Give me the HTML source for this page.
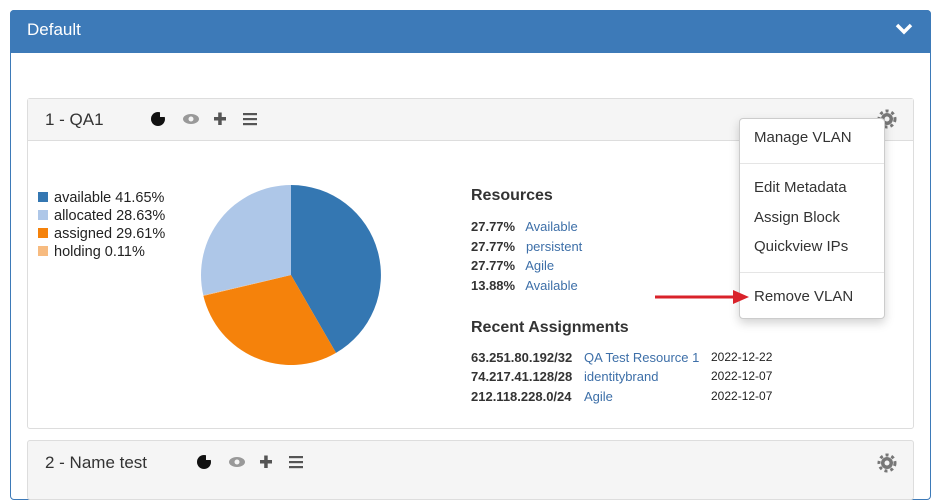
<!DOCTYPE html>
<html><head><style>
*{margin:0;padding:0;box-sizing:border-box}
body{width:940px;height:487px;background:#fff;font-family:"Liberation Sans",sans-serif;position:relative;overflow:hidden;color:#333}
.a{position:absolute;white-space:nowrap}
.lk{color:#3d6fa8}
</style></head><body>
<div class="a" style="left:10px;top:10px;width:921px;height:490px;border:1px solid #3d7ab8;border-radius:4px"></div>
<div class="a" style="left:10px;top:10px;width:921px;height:43px;background:#3d7ab8;border-radius:4px 4px 0 0"></div>
<div class="a" style="left:27px;top:19px;color:#fff;font-size:17px;line-height:22px">Default</div>
<svg class="a" style="left:895px;top:22px" width="18" height="14"><path d="M2 3 L9 10 L16 3" stroke="#fff" stroke-width="3.5" fill="none"/></svg>

<div class="a" style="left:27px;top:98px;width:887px;height:331px;border:1px solid #ddd;border-radius:3px"></div>
<div class="a" style="left:28px;top:99px;width:885px;height:42px;background:#f5f5f5;border-bottom:1px solid #ddd"></div>
<div class="a" style="left:27px;top:440px;width:887px;height:60px;border:1px solid #ddd;border-radius:3px;background:#f5f5f5"></div>
<div class="a" style="left:45px;top:109px;font-size:17px;line-height:22px">1 - QA1</div>
<svg class="a" style="left:150px;top:111px" width="120" height="16"><circle cx="8" cy="8" r="7" fill="#111"/><path d="M10 6 V1 A6 6 0 0 1 15 6Z" fill="#f5f5f5"/>
<ellipse cx="41" cy="8" rx="8" ry="5" fill="#999"/><circle cx="41" cy="8" r="2.5" fill="#f5f5f5"/>
<rect x="64" y="6" width="12" height="3.5" fill="#555"/><rect x="68.2" y="1.5" width="3.5" height="12.5" fill="#555"/>
<rect x="93" y="2" width="14" height="2.2" fill="#555"/><rect x="93" y="7" width="14" height="2.2" fill="#555"/><rect x="93" y="12" width="14" height="2.2" fill="#555"/></svg>

<svg class="a" style="left:0;top:0" width="940" height="487">
<path d="M291 275 L291 185 A90 90 0 0 1 336 352.9Z" fill="#3477b2"/>
<path d="M291 275 L336 352.9 A90 90 0 0 1 203.4 295.9Z" fill="#f5820b"/>
<path d="M291 275 L203.4 295.9 A90 90 0 0 1 203.3 295.2Z" fill="#f7bb80"/>
<path d="M291 275 L203.3 295.2 A90 90 0 0 1 291 185Z" fill="#aec7e8"/>
<circle cx="887" cy="119" r="6" fill="#777"/><circle cx="887" cy="119" r="8" fill="none" stroke="#777" stroke-width="3" stroke-dasharray="3 3"/><circle cx="887" cy="119" r="2.5" fill="#f5f5f5"/>
<circle cx="887" cy="463" r="6" fill="#777"/><circle cx="887" cy="463" r="8" fill="none" stroke="#777" stroke-width="3" stroke-dasharray="3 3"/><circle cx="887" cy="463" r="2.5" fill="#f5f5f5"/>
</svg>

<div class="a" style="left:38px;top:189px;font-size:14.5px;line-height:18px;color:#222">
<div><span style="display:inline-block;width:10px;height:10px;background:#3477b2;margin-right:6px"></span>available 41.65%</div>
<div><span style="display:inline-block;width:10px;height:10px;background:#aec7e8;margin-right:6px"></span>allocated 28.63%</div>
<div><span style="display:inline-block;width:10px;height:10px;background:#f5820b;margin-right:6px"></span>assigned 29.61%</div>
<div><span style="display:inline-block;width:10px;height:10px;background:#f7bb80;margin-right:6px"></span>holding 0.11%</div>
</div>

<div class="a" style="left:471px;top:187px;font-size:16px;font-weight:bold">Resources</div>
<div class="a" style="left:471px;top:217px;font-size:13px;line-height:19.5px">
<div><b>27.77%</b>&nbsp;&nbsp; <span class="lk">Available</span></div>
<div><b>27.77%</b>&nbsp;&nbsp; <span class="lk">persistent</span></div>
<div><b>27.77%</b>&nbsp;&nbsp; <span class="lk">Agile</span></div>
<div><b>13.88%</b>&nbsp;&nbsp; <span class="lk">Available</span></div></div>
<div class="a" style="left:471px;top:319px;font-size:16px;font-weight:bold">Recent Assignments</div>
<div class="a" style="left:471px;top:348px;font-size:13px;line-height:19.3px">
<div><b>63.251.80.192/32</b></div><div><b>74.217.41.128/28</b></div><div><b>212.118.228.0/24</b></div></div>
<div class="a lk" style="left:584px;top:348px;font-size:13px;line-height:19.3px"><div>QA Test Resource 1</div><div>identitybrand</div><div>Agile</div></div>
<div class="a" style="left:711px;top:348px;font-size:12px;line-height:19.3px;color:#222"><div>2022-12-22</div><div>2022-12-07</div><div>2022-12-07</div></div>

<div class="a" style="left:739px;top:118px;width:146px;height:201px;background:#fff;border:1px solid #ccc;border-radius:4px;box-shadow:0 4px 10px rgba(0,0,0,.18)"></div>
<div class="a" style="left:740px;top:163px;width:144px;height:1px;background:#e5e5e5"></div>
<div class="a" style="left:740px;top:272px;width:144px;height:1px;background:#e5e5e5"></div>
<div class="a" style="left:754px;top:128px;font-size:15px;line-height:20px;color:#333">Manage VLAN</div>
<div class="a" style="left:754px;top:178px;font-size:15px;line-height:20px;color:#333">Edit Metadata</div>
<div class="a" style="left:754px;top:208px;font-size:15px;line-height:20px;color:#333">Assign Block</div>
<div class="a" style="left:754px;top:237px;font-size:15px;line-height:20px;color:#333">Quickview IPs</div>
<div class="a" style="left:754px;top:287px;font-size:15px;line-height:20px;color:#333">Remove VLAN</div>
<svg class="a" style="left:650px;top:288px" width="102" height="18"><rect x="5" y="7.5" width="80" height="3" fill="#d9222a"/><path d="M83 2 L99 9 L83 16Z" fill="#d9222a"/></svg>

<div class="a" style="left:45px;top:452px;font-size:17px;line-height:22px">2 - Name test</div>
<svg class="a" style="left:196px;top:454px" width="120" height="16"><circle cx="8" cy="8" r="7" fill="#111"/><path d="M10 6 V1 A6 6 0 0 1 15 6Z" fill="#f5f5f5"/>
<ellipse cx="41" cy="8" rx="8" ry="5" fill="#999"/><circle cx="41" cy="8" r="2.5" fill="#f5f5f5"/>
<rect x="64" y="6" width="12" height="3.5" fill="#555"/><rect x="68.2" y="1.5" width="3.5" height="12.5" fill="#555"/>
<rect x="93" y="2" width="14" height="2.2" fill="#555"/><rect x="93" y="7" width="14" height="2.2" fill="#555"/><rect x="93" y="12" width="14" height="2.2" fill="#555"/></svg>
</body></html>
